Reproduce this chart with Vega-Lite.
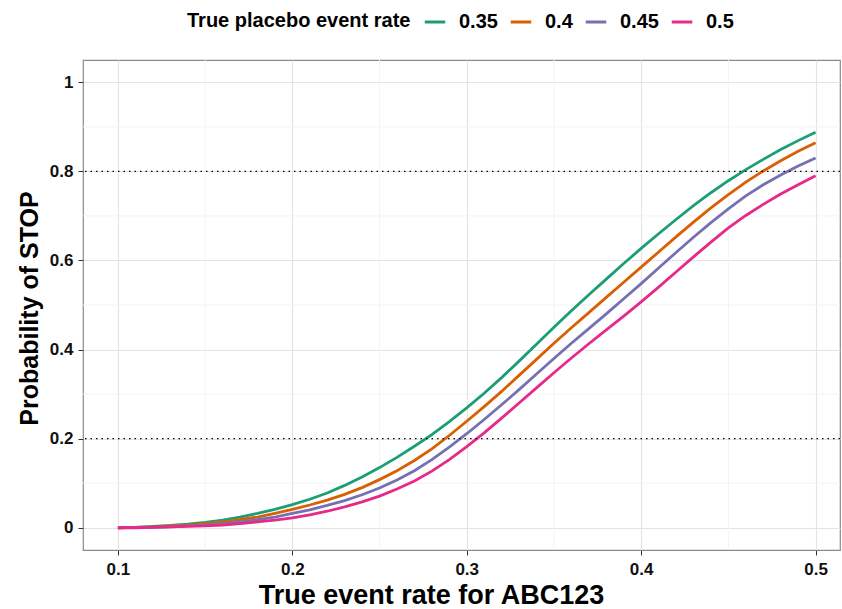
{
  "$schema": "https://vega.github.io/schema/vega-lite/v6.json",
  "width": 757,
  "height": 490,
  "autosize": {"type": "none"},
  "padding": {"left": 83, "top": 60, "right": 2, "bottom": 59},
  "background": "white",
  "config": {
    "font": "Liberation Sans",
    "view": {"stroke": "#8a8a8a", "strokeWidth": 1.2}
  },
  "datasets": {
    "minorx": [{"x": 0.15}, {"x": 0.25}, {"x": 0.35}, {"x": 0.45}],
    "minory": [{"p": 0.1}, {"p": 0.3}, {"p": 0.5}, {"p": 0.7}, {"p": 0.9}],
    "refs": [{"p": 0.2}, {"p": 0.8}],
    "curves": [
      {"rate": "0.35", "x": 0.10, "p": 0.000}, {"rate": "0.35", "x": 0.11, "p": 0.001}, {"rate": "0.35", "x": 0.12, "p": 0.003}, {"rate": "0.35", "x": 0.13, "p": 0.005}, {"rate": "0.35", "x": 0.14, "p": 0.008}, {"rate": "0.35", "x": 0.15, "p": 0.012}, {"rate": "0.35", "x": 0.16, "p": 0.017}, {"rate": "0.35", "x": 0.17, "p": 0.024}, {"rate": "0.35", "x": 0.18, "p": 0.032}, {"rate": "0.35", "x": 0.19, "p": 0.041}, {"rate": "0.35", "x": 0.20, "p": 0.052}, {"rate": "0.35", "x": 0.21, "p": 0.064}, {"rate": "0.35", "x": 0.22, "p": 0.078}, {"rate": "0.35", "x": 0.23, "p": 0.095}, {"rate": "0.35", "x": 0.24, "p": 0.114}, {"rate": "0.35", "x": 0.25, "p": 0.135}, {"rate": "0.35", "x": 0.26, "p": 0.158}, {"rate": "0.35", "x": 0.27, "p": 0.183}, {"rate": "0.35", "x": 0.28, "p": 0.209}, {"rate": "0.35", "x": 0.29, "p": 0.238}, {"rate": "0.35", "x": 0.30, "p": 0.269}, {"rate": "0.35", "x": 0.31, "p": 0.302}, {"rate": "0.35", "x": 0.32, "p": 0.337}, {"rate": "0.35", "x": 0.33, "p": 0.374}, {"rate": "0.35", "x": 0.34, "p": 0.412}, {"rate": "0.35", "x": 0.35, "p": 0.450}, {"rate": "0.35", "x": 0.36, "p": 0.487}, {"rate": "0.35", "x": 0.37, "p": 0.523}, {"rate": "0.35", "x": 0.38, "p": 0.558}, {"rate": "0.35", "x": 0.39, "p": 0.593}, {"rate": "0.35", "x": 0.40, "p": 0.627}, {"rate": "0.35", "x": 0.41, "p": 0.660}, {"rate": "0.35", "x": 0.42, "p": 0.692}, {"rate": "0.35", "x": 0.43, "p": 0.723}, {"rate": "0.35", "x": 0.44, "p": 0.752}, {"rate": "0.35", "x": 0.45, "p": 0.779}, {"rate": "0.35", "x": 0.46, "p": 0.804}, {"rate": "0.35", "x": 0.47, "p": 0.827}, {"rate": "0.35", "x": 0.48, "p": 0.849}, {"rate": "0.35", "x": 0.49, "p": 0.869}, {"rate": "0.35", "x": 0.50, "p": 0.888},
      {"rate": "0.4", "x": 0.10, "p": 0.000}, {"rate": "0.4", "x": 0.11, "p": 0.001}, {"rate": "0.4", "x": 0.12, "p": 0.002}, {"rate": "0.4", "x": 0.13, "p": 0.004}, {"rate": "0.4", "x": 0.14, "p": 0.006}, {"rate": "0.4", "x": 0.15, "p": 0.009}, {"rate": "0.4", "x": 0.16, "p": 0.013}, {"rate": "0.4", "x": 0.17, "p": 0.018}, {"rate": "0.4", "x": 0.18, "p": 0.024}, {"rate": "0.4", "x": 0.19, "p": 0.032}, {"rate": "0.4", "x": 0.20, "p": 0.041}, {"rate": "0.4", "x": 0.21, "p": 0.051}, {"rate": "0.4", "x": 0.22, "p": 0.062}, {"rate": "0.4", "x": 0.23, "p": 0.075}, {"rate": "0.4", "x": 0.24, "p": 0.090}, {"rate": "0.4", "x": 0.25, "p": 0.108}, {"rate": "0.4", "x": 0.26, "p": 0.128}, {"rate": "0.4", "x": 0.27, "p": 0.151}, {"rate": "0.4", "x": 0.28, "p": 0.177}, {"rate": "0.4", "x": 0.29, "p": 0.207}, {"rate": "0.4", "x": 0.30, "p": 0.239}, {"rate": "0.4", "x": 0.31, "p": 0.272}, {"rate": "0.4", "x": 0.32, "p": 0.306}, {"rate": "0.4", "x": 0.33, "p": 0.342}, {"rate": "0.4", "x": 0.34, "p": 0.378}, {"rate": "0.4", "x": 0.35, "p": 0.414}, {"rate": "0.4", "x": 0.36, "p": 0.449}, {"rate": "0.4", "x": 0.37, "p": 0.483}, {"rate": "0.4", "x": 0.38, "p": 0.517}, {"rate": "0.4", "x": 0.39, "p": 0.551}, {"rate": "0.4", "x": 0.40, "p": 0.585}, {"rate": "0.4", "x": 0.41, "p": 0.619}, {"rate": "0.4", "x": 0.42, "p": 0.653}, {"rate": "0.4", "x": 0.43, "p": 0.686}, {"rate": "0.4", "x": 0.44, "p": 0.718}, {"rate": "0.4", "x": 0.45, "p": 0.748}, {"rate": "0.4", "x": 0.46, "p": 0.776}, {"rate": "0.4", "x": 0.47, "p": 0.801}, {"rate": "0.4", "x": 0.48, "p": 0.824}, {"rate": "0.4", "x": 0.49, "p": 0.845}, {"rate": "0.4", "x": 0.50, "p": 0.864},
      {"rate": "0.45", "x": 0.10, "p": 0.000}, {"rate": "0.45", "x": 0.11, "p": 0.001}, {"rate": "0.45", "x": 0.12, "p": 0.001}, {"rate": "0.45", "x": 0.13, "p": 0.002}, {"rate": "0.45", "x": 0.14, "p": 0.004}, {"rate": "0.45", "x": 0.15, "p": 0.006}, {"rate": "0.45", "x": 0.16, "p": 0.009}, {"rate": "0.45", "x": 0.17, "p": 0.013}, {"rate": "0.45", "x": 0.18, "p": 0.018}, {"rate": "0.45", "x": 0.19, "p": 0.024}, {"rate": "0.45", "x": 0.20, "p": 0.032}, {"rate": "0.45", "x": 0.21, "p": 0.040}, {"rate": "0.45", "x": 0.22, "p": 0.050}, {"rate": "0.45", "x": 0.23, "p": 0.061}, {"rate": "0.45", "x": 0.24, "p": 0.074}, {"rate": "0.45", "x": 0.25, "p": 0.089}, {"rate": "0.45", "x": 0.26, "p": 0.107}, {"rate": "0.45", "x": 0.27, "p": 0.128}, {"rate": "0.45", "x": 0.28, "p": 0.153}, {"rate": "0.45", "x": 0.29, "p": 0.181}, {"rate": "0.45", "x": 0.30, "p": 0.211}, {"rate": "0.45", "x": 0.31, "p": 0.243}, {"rate": "0.45", "x": 0.32, "p": 0.276}, {"rate": "0.45", "x": 0.33, "p": 0.310}, {"rate": "0.45", "x": 0.34, "p": 0.345}, {"rate": "0.45", "x": 0.35, "p": 0.380}, {"rate": "0.45", "x": 0.36, "p": 0.414}, {"rate": "0.45", "x": 0.37, "p": 0.447}, {"rate": "0.45", "x": 0.38, "p": 0.480}, {"rate": "0.45", "x": 0.39, "p": 0.514}, {"rate": "0.45", "x": 0.40, "p": 0.548}, {"rate": "0.45", "x": 0.41, "p": 0.583}, {"rate": "0.45", "x": 0.42, "p": 0.618}, {"rate": "0.45", "x": 0.43, "p": 0.652}, {"rate": "0.45", "x": 0.44, "p": 0.685}, {"rate": "0.45", "x": 0.45, "p": 0.716}, {"rate": "0.45", "x": 0.46, "p": 0.745}, {"rate": "0.45", "x": 0.47, "p": 0.770}, {"rate": "0.45", "x": 0.48, "p": 0.792}, {"rate": "0.45", "x": 0.49, "p": 0.812}, {"rate": "0.45", "x": 0.50, "p": 0.830},
      {"rate": "0.5", "x": 0.10, "p": 0.000}, {"rate": "0.5", "x": 0.11, "p": 0.000}, {"rate": "0.5", "x": 0.12, "p": 0.001}, {"rate": "0.5", "x": 0.13, "p": 0.002}, {"rate": "0.5", "x": 0.14, "p": 0.003}, {"rate": "0.5", "x": 0.15, "p": 0.004}, {"rate": "0.5", "x": 0.16, "p": 0.006}, {"rate": "0.5", "x": 0.17, "p": 0.009}, {"rate": "0.5", "x": 0.18, "p": 0.013}, {"rate": "0.5", "x": 0.19, "p": 0.017}, {"rate": "0.5", "x": 0.20, "p": 0.022}, {"rate": "0.5", "x": 0.21, "p": 0.029}, {"rate": "0.5", "x": 0.22, "p": 0.037}, {"rate": "0.5", "x": 0.23, "p": 0.047}, {"rate": "0.5", "x": 0.24, "p": 0.058}, {"rate": "0.5", "x": 0.25, "p": 0.071}, {"rate": "0.5", "x": 0.26, "p": 0.087}, {"rate": "0.5", "x": 0.27, "p": 0.105}, {"rate": "0.5", "x": 0.28, "p": 0.127}, {"rate": "0.5", "x": 0.29, "p": 0.153}, {"rate": "0.5", "x": 0.30, "p": 0.182}, {"rate": "0.5", "x": 0.31, "p": 0.213}, {"rate": "0.5", "x": 0.32, "p": 0.246}, {"rate": "0.5", "x": 0.33, "p": 0.280}, {"rate": "0.5", "x": 0.34, "p": 0.314}, {"rate": "0.5", "x": 0.35, "p": 0.348}, {"rate": "0.5", "x": 0.36, "p": 0.381}, {"rate": "0.5", "x": 0.37, "p": 0.413}, {"rate": "0.5", "x": 0.38, "p": 0.444}, {"rate": "0.5", "x": 0.39, "p": 0.475}, {"rate": "0.5", "x": 0.40, "p": 0.507}, {"rate": "0.5", "x": 0.41, "p": 0.540}, {"rate": "0.5", "x": 0.42, "p": 0.574}, {"rate": "0.5", "x": 0.43, "p": 0.608}, {"rate": "0.5", "x": 0.44, "p": 0.641}, {"rate": "0.5", "x": 0.45, "p": 0.673}, {"rate": "0.5", "x": 0.46, "p": 0.701}, {"rate": "0.5", "x": 0.47, "p": 0.726}, {"rate": "0.5", "x": 0.48, "p": 0.749}, {"rate": "0.5", "x": 0.49, "p": 0.770}, {"rate": "0.5", "x": 0.50, "p": 0.790}
    ]
  },
  "layer": [
    {
      "data": {"name": "minorx"},
      "mark": {"type": "rule", "color": "#f3f3f3", "strokeWidth": 1},
      "encoding": {
        "x": {"field": "x", "type": "quantitative", "scale": {"domain": [0.08, 0.514], "nice": false, "zero": false}}
      }
    },
    {
      "data": {"name": "minory"},
      "mark": {"type": "rule", "color": "#f3f3f3", "strokeWidth": 1},
      "encoding": {
        "y": {"field": "p", "type": "quantitative", "scale": {"domain": [-0.05, 1.05], "nice": false, "zero": false}}
      }
    },
    {
      "data": {"name": "curves"},
      "mark": {"type": "line", "strokeWidth": 2.8, "interpolate": "linear"},
      "encoding": {
        "x": {
          "field": "x", "type": "quantitative",
          "scale": {"domain": [0.08, 0.514], "nice": false, "zero": false},
          "axis": {
            "title": "True event rate for ABC123",
            "values": [0.1, 0.2, 0.3, 0.4, 0.5], "format": "~g",
            "domain": false, "grid": true, "gridColor": "#e4e4e4", "gridWidth": 1.2,
            "tickColor": "#333333", "tickSize": 5, "tickWidth": 1,
            "labelFont": "Liberation Sans", "labelFontSize": 17, "labelFontWeight": "bold", "labelColor": "#111111", "labelPadding": 6,
            "titleFont": "Liberation Sans", "titleFontSize": 27, "titleFontWeight": "bold", "titleColor": "black",
            "titleX": 348, "titleY": 53, "titleAlign": "center", "titleBaseline": "alphabetic"
          }
        },
        "y": {
          "field": "p", "type": "quantitative",
          "scale": {"domain": [-0.05, 1.05], "nice": false, "zero": false},
          "axis": {
            "title": "Probability of STOP",
            "values": [0, 0.2, 0.4, 0.6, 0.8, 1], "format": "~g",
            "domain": false, "grid": true, "gridColor": "#e4e4e4", "gridWidth": 1.2,
            "tickColor": "#333333", "tickSize": 5, "tickWidth": 1,
            "labelFont": "Liberation Sans", "labelFontSize": 17, "labelFontWeight": "bold", "labelColor": "#111111", "labelPadding": 5,
            "titleFont": "Liberation Sans", "titleFontSize": 25, "titleFontWeight": "bold", "titleColor": "black",
            "titleAngle": -90, "titleX": -46, "titleY": 248, "titleAlign": "center", "titleBaseline": "alphabetic"
          }
        },
        "color": {
          "field": "rate", "type": "nominal",
          "scale": {"domain": ["0.35", "0.4", "0.45", "0.5"], "range": ["#1B9E77", "#D95F02", "#7570B3", "#E7298A"]},
          "legend": {
            "orient": "none", "legendX": 104, "legendY": -50,
            "direction": "horizontal",
            "title": "True placebo event rate",
            "titleOrient": "left", "titleFont": "Liberation Sans", "titleFontSize": 20, "titleFontWeight": "bold", "titleColor": "black", "titlePadding": 12, "titleLimit": 400,
            "labelFont": "Liberation Sans", "labelFontSize": 20, "labelFontWeight": "bold", "labelColor": "black", "labelOffset": 12,
            "symbolType": "stroke", "symbolStrokeWidth": 3, "symbolSize": 420, "columnPadding": 6
          }
        }
      }
    },
    {
      "data": {"name": "refs"},
      "mark": {"type": "rule", "color": "black", "strokeWidth": 1.3, "strokeDash": [1.5, 4]},
      "encoding": {
        "y": {"field": "p", "type": "quantitative"}
      }
    }
  ]
}
